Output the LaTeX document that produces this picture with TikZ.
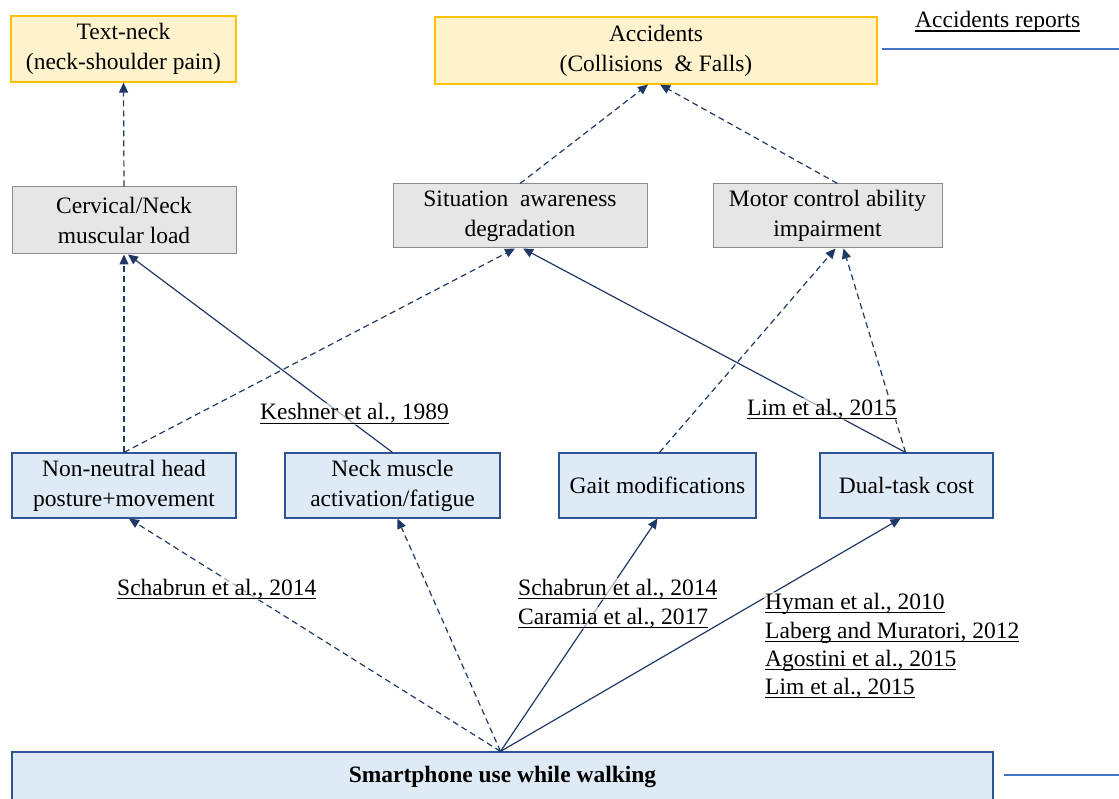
\documentclass[tikz,border=0pt]{standalone}
\usepackage{fontspec}
\setmainfont{Liberation Serif}
\usetikzlibrary{arrows.meta,calc}
\definecolor{ylwfill}{HTML}{FFF2CC}
\definecolor{ylwdraw}{HTML}{FFC000}
\definecolor{gryfill}{HTML}{E7E6E6}
\definecolor{grydraw}{HTML}{8C8C8C}
\definecolor{blufill}{HTML}{DEEBF7}
\definecolor{bludraw}{HTML}{2F5597}
\definecolor{navy}{HTML}{203864}
\definecolor{lineblue}{HTML}{4472C4}
\newcommand{\uln}[1]{\setbox0\hbox{#1}\rlap{\rule[-4pt]{\wd0}{1.5pt}}\box0}
\begin{document}
\begin{tikzpicture}[x=1pt,y=-1pt,
  every node/.style={font=\fontsize{23.5}{30}\selectfont, align=center, inner sep=0pt},
  ybox/.style={draw=ylwdraw, fill=ylwfill, line width=1.2pt},
  gbox/.style={draw=grydraw, fill=gryfill, line width=1pt},
  bbox/.style={draw=bludraw, fill=blufill, line width=1.2pt},
  arr/.style={draw=navy, line width=1.2pt, -{Triangle[length=10pt,width=9pt]}},
  dsh/.style={arr, dash pattern=on 6pt off 4pt},
  ref/.style={anchor=base west, fill=white, fill opacity=0.6, text opacity=1, inner sep=1pt}
]
\useasboundingbox (0,0) rectangle (1119,799);
% boxes
\node[ybox, minimum width=225pt, minimum height=66pt] (tn) at (123.5,49) {Text-neck\\(neck-shoulder pain)};
\node[ybox, minimum width=442pt, minimum height=67pt] (acc) at (656,50.5) {Accidents\\(Collisions~~\& Falls)};
\node[gbox, minimum width=224pt, minimum height=67pt] (cerv) at (124,220.5) {Cervical/Neck\\muscular load};
\node[gbox, minimum width=254pt, minimum height=64pt] (sit) at (520,216) {Situation~~awareness\\degradation};
\node[gbox, minimum width=229pt, minimum height=64pt] (mot) at (827.5,216) {Motor control ability\\impairment};
\node[bbox, minimum width=224pt, minimum height=65pt] (nn) at (124,485.5) {Non-neutral head\\posture+movement};
\node[bbox, minimum width=215pt, minimum height=65pt] (nm) at (392.5,485.5) {Neck muscle\\activation/fatigue};
\node[bbox, minimum width=197pt, minimum height=65pt] (gait) at (657.5,485.5) {Gait modifications};
\node[bbox, minimum width=173pt, minimum height=65pt] (dual) at (906.5,485.5) {Dual-task cost};
\node[bbox, minimum width=981pt, minimum height=50pt] (phone) at (502.5,777) {\textbf{Smartphone use while walking}};
% side labels and lines
\node[anchor=base west] (accrep) at (915,28) {\uln{Accidents reports}};
\coordinate (accline) at (1119,49);
\draw[lineblue, line width=1.1pt] ($(acc.east)+(4,-1.5)$) -- (accline);
\coordinate (phline) at (1119,775);
\draw[lineblue, line width=1.1pt] ($(phone.east)+(10,-2)$) -- (phline);
% connectors
\draw[dsh] (cerv.north) -- (tn.south);
\draw[dsh] (sit.north) -- ($(acc.south)+(-8,0)$);
\draw[dsh] ($(mot.north)+(10,0)$) -- ($(acc.south)+(4,0)$);
\draw[dsh] (nn.north) -- (cerv.south);
\draw[dsh] (nn.north) -- ($(sit.south)+(-5,0)$);
\draw[arr] (nm.north) -- ($(cerv.south)+(4,0)$);
\draw[dsh] ($(gait.north)+(2,0)$) -- ($(mot.south)+(8,0)$);
\draw[arr] ($(dual.north)+(-1,0)$) -- ($(sit.south)+(3,0)$);
\draw[dsh] ($(dual.north)+(-1,0)$) -- ($(mot.south)+(16,0)$);
\draw[dsh] ($(phone.north)+(-2,0)$) -- ($(nn.south)+(5,0)$);
\draw[dsh] ($(phone.north)+(-2,0)$) -- ($(nm.south)+(5,0)$);
\draw[arr] ($(phone.north)+(-2,0)$) -- ($(gait.south)+(0,0)$);
\draw[arr] ($(phone.north)+(-2,0)$) -- ($(dual.south)+(-6,0)$);
% references
\node[ref] (r1) at (259,420) {\uln{Keshner et al., 1989}};
\node[ref] (r2) at (746,415) {\uln{Lim et al., 2015}};
\node[ref] (r3) at (116,595) {\uln{Schabrun et al., 2014}};
\node[ref] (r4a) at (517,595) {\uln{Schabrun et al., 2014}};
\node[ref] (r4b) at (517,624) {\uln{Caramia et al., 2017}};
\node[ref] (r5a) at (764,609) {\uln{Hyman et al., 2010}};
\node[ref] (r5b) at (764,638) {\uln{Laberg and Muratori, 2012}};
\node[ref] (r5c) at (764,666) {\uln{Agostini et al., 2015}};
\node[ref] (r5d) at (764,694) {\uln{Lim et al., 2015}};
\end{tikzpicture}
\end{document}
